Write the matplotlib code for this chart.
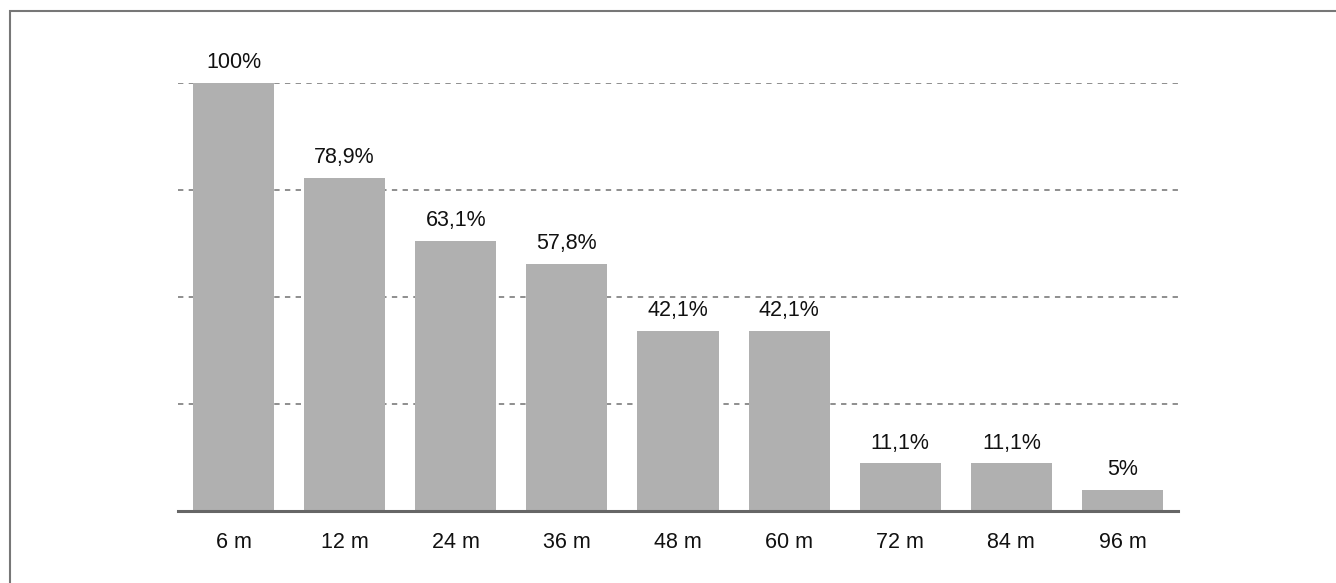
import matplotlib.pyplot as plt
from matplotlib.patches import Rectangle

# Datos
categories = ["6 m", "12 m", "24 m", "36 m", "48 m", "60 m", "72 m", "84 m", "96 m"]
values = [100, 77.9, 63.1, 57.8, 42.1, 42.1, 11.1, 11.1, 5]
labels = ["100%", "78,9%", "63,1%", "57,8%", "42,1%", "42,1%", "11,1%", "11,1%", "5%"]

plt.rcParams['font.family'] = ['Liberation Sans Narrow', 'Liberation Sans', 'DejaVu Sans']

W, H = 1336, 583
fig = plt.figure(figsize=(W / 100, H / 100), dpi=100)

# marco gris (solo arriba e izquierda visibles)
fig.patches.append(Rectangle((10 / W, -0.1), 1.2, 1 - 11 / H + 0.1,
                             transform=fig.transFigure, fill=False,
                             edgecolor="#777777", linewidth=1.5))

ax = fig.add_axes([178 / W, 1 - 511 / H, 1000 / W, (511 - 83) / H])
x = range(len(categories))
ax.bar(x, values, width=0.73, color="#b0b0b0", zorder=2)

ax.set_xlim(-0.5, len(categories) - 0.5)
ax.set_ylim(0, 100)
ax.set_yticks([25, 50, 75, 100])
ax.yaxis.grid(True, linestyle=(0, (3.5, 3.5)), color="#707070", linewidth=1.1, zorder=1)
ax.tick_params(axis="y", left=False, labelleft=False)
ax.tick_params(axis="x", bottom=False, labelsize=15.5, pad=11.5, colors="#111111")
ax.set_xticks(list(x))
ax.set_xticklabels(categories)

for s in ["top", "right", "left"]:
    ax.spines[s].set_visible(False)
ax.spines["bottom"].set_color("#666666")
ax.spines["bottom"].set_linewidth(2.2)
ax.spines["bottom"].set_zorder(3)

for xi, v, lab in zip(x, values, labels):
    ax.annotate(lab, (xi, v), xytext=(0, 10.5), textcoords="offset points",
                ha="center", va="baseline", fontsize=15.5, color="#111111")

fig.savefig("out.png", dpi=100)
